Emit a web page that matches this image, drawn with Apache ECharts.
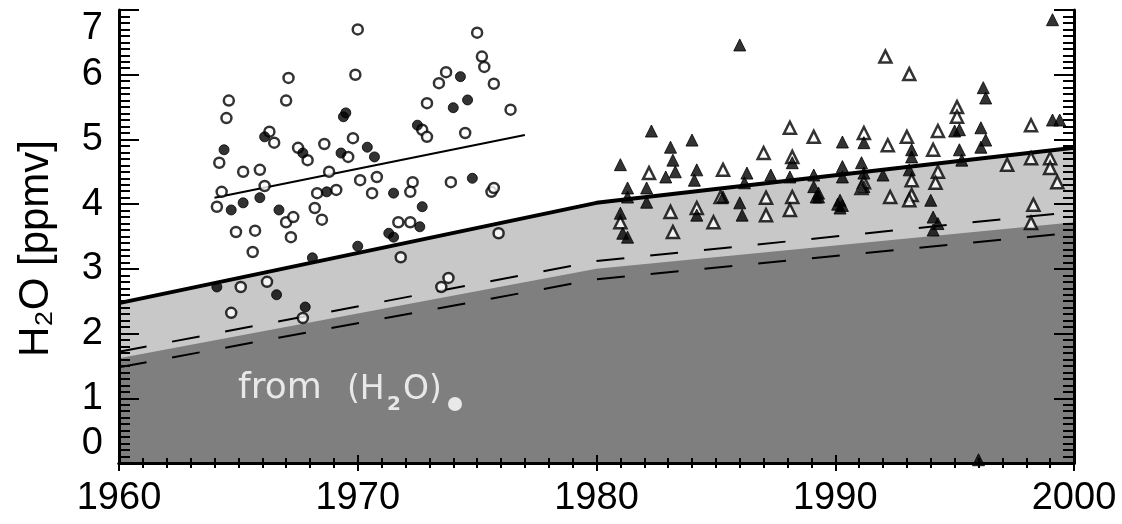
<!DOCTYPE html>
<html>
<head>
<meta charset="utf-8">
<script src="https://cdn.jsdelivr.net/npm/echarts@6/dist/echarts.min.js"></script>
<style>
html,body{margin:0;padding:0;background:#fff;}
#c{width:1122px;height:524px;}
</style>
</head>
<body>
<div id="c"></div>
<script>
// ---- data ----
const bandYears = [1960, 1980, 2000];
const solidUpper = [2.47, 4.02, 4.87];   // thick solid line, top of light band
const darkTop    = [1.62, 3.00, 3.72];   // top of dark band
const dashUpper  = [1.72, 3.12, 3.88];
const dashLower  = [1.48, 2.84, 3.56];
const trendYears = [1964, 1977];
const trendVals  = [4.10, 5.07];

const leftOpen = [
 [1964.6,5.6],[1964.5,5.33],[1967.1,5.95],[1967.0,5.6],[1969.9,6.0],[1970.0,6.7],[1975.0,6.65],
 [1966.3,5.12],[1966.5,4.95],[1964.2,4.64],[1965.2,4.5],[1965.9,4.53],[1967.5,4.87],[1967.9,4.68],
 [1968.6,4.93],[1969.8,5.02],[1969.6,4.73],[1968.8,4.5],[1964.3,4.19],[1964.1,3.96],[1966.1,4.28],
 [1968.3,4.17],[1969.1,4.22],[1970.1,4.37],[1970.8,4.42],[1970.6,4.17],[1972.3,4.34],[1972.2,4.19],
 [1973.9,4.34],[1975.6,4.19],[1975.7,4.25],[1967.0,3.72],[1967.3,3.80],[1968.2,3.94],[1968.5,3.76],
 [1964.9,3.57],[1965.7,3.59],[1967.2,3.49],[1965.6,3.26],[1971.7,3.72],[1972.2,3.72],[1971.8,3.18],
 [1975.9,3.55],[1973.4,5.87],[1973.7,6.04],[1972.9,5.56],[1972.7,5.15],[1972.9,5.04],[1974.5,5.10],
 [1975.2,6.28],[1975.3,6.12],[1975.7,5.86],[1976.4,5.46],[1965.1,2.72],[1966.2,2.80],[1964.7,2.32],
 [1967.7,2.24],[1973.8,2.86],[1973.5,2.72]
];
const leftFilled = [
 [1969.4,5.35],[1969.5,5.41],[1966.1,5.04],[1964.4,4.84],[1967.7,4.79],[1969.3,4.79],[1970.4,4.88],
 [1970.7,4.73],[1964.7,3.91],[1965.2,4.02],[1965.9,4.10],[1968.7,4.19],[1971.5,4.17],[1972.7,3.96],
 [1974.8,4.40],[1966.7,3.91],[1972.6,3.65],[1971.3,3.55],[1971.5,3.49],[1970.0,3.35],[1968.1,3.17],
 [1974.3,5.97],[1974.6,5.61],[1974.0,5.49],[1972.5,5.22],[1964.1,2.72],[1966.6,2.60],[1967.8,2.41]
];
const rightOpen = [
 [1992.1,6.28],[1993.1,6.01],[1995.1,5.5],[1995.1,5.35],[1994.3,5.13],[1998.2,5.22],[1994.1,4.84],
 [1993.0,5.04],[1988.1,5.18],[1989.1,5.04],[1991.2,5.10],[1992.2,4.91],[1987.0,4.79],[1988.2,4.73],
 [1982.2,4.48],[1985.3,4.53],[1985.2,4.11],[1993.2,4.37],[1994.3,4.5],[1994.2,4.33],[1997.2,4.61],
 [1998.2,4.71],[1999.0,4.71],[1999.0,4.56],[1999.3,4.34],[1981.0,3.72],[1983.1,3.88],[1983.2,3.57],
 [1984.2,3.94],[1984.9,3.72],[1987.1,4.10],[1987.1,3.83],[1988.2,4.11],[1988.1,3.91],[1991.2,4.34],
 [1991.1,4.25],[1992.3,4.11],[1993.2,4.14],[1993.1,4.06],[1998.3,3.99],[1998.2,3.71]
];
const rightFilled = [
 [1986.0,6.46],[1999.1,6.85],[1996.2,5.8],[1996.3,5.64],[1995.2,5.15],[1995.0,5.13],[1996.1,5.18],
 [1996.3,4.99],[1999.1,5.3],[1999.4,5.3],[1993.2,4.84],[1993.2,4.73],[1995.2,4.84],[1995.3,4.68],
 [1996.1,4.88],[1990.3,4.96],[1991.2,4.95],[1982.3,5.13],[1983.1,4.88],[1983.2,4.68],[1983.3,4.5],
 [1984.0,4.99],[1981.0,4.61],[1982.9,4.42],[1984.2,4.53],[1984.1,4.37],[1986.3,4.48],[1986.2,4.33],
 [1987.3,4.45],[1988.2,4.64],[1988.1,4.42],[1989.1,4.45],[1989.1,4.27],[1989.2,4.11],[1990.3,4.58],
 [1990.3,4.42],[1991.1,4.64],[1991.2,4.48],[1991.2,4.27],[1992.0,4.45],[1993.1,4.53],[1981.3,4.25],
 [1981.3,4.11],[1982.1,4.25],[1982.1,4.03],[1981.0,3.86],[1981.1,3.55],[1981.3,3.49],[1984.2,3.83],
 [1985.3,4.11],[1986.0,4.02],[1986.1,3.83],[1989.3,4.17],[1989.3,4.11],[1990.2,4.06],[1990.2,3.94],
 [1990.1,4.00],[1990.3,3.98],[1994.0,4.06],[1994.1,3.80],[1994.1,3.60],[1994.3,3.70],[1996.0,0.05]
];
const xRange = [1960, 2000];
const yRange = [0, 7];

// ---- build ----
const pairs = (xs, ys) => xs.map((x, i) => [x, ys[i]]);
const chart = echarts.init(document.getElementById('c'));
const tickFont = 'Liberation Sans';

function xAx(pos, labels) {
  return {
    type: 'value', min: xRange[0], max: xRange[1], interval: 10, position: pos,
    axisLine: {show: true, lineStyle: {color: '#000', width: 3}},
    axisTick: {show: true, inside: true, length: 8, lineStyle: {color: '#000', width: 2}},
    minorTick: {show: true, splitNumber: 10, length: 5, lineStyle: {color: '#000', width: 2}},
    splitLine: {show: false},
    axisLabel: {show: labels, color: '#000', fontSize: 38, fontFamily: tickFont, margin: 17,
                formatter: v => String(v)}
  };
}
function yAx(pos, labels) {
  return {
    type: 'value', min: yRange[0], max: yRange[1], interval: 1, position: pos,
    axisLine: {show: true, lineStyle: {color: '#000', width: 3}},
    axisTick: {show: true, inside: true, length: 20, lineStyle: {color: '#000', width: 2}},
    minorTick: {show: true, splitNumber: 10, length: 11, lineStyle: {color: '#000', width: 2}},
    splitLine: {show: false},
    axisLabel: {show: labels, color: '#000', fontSize: 38, fontFamily: tickFont, margin: 16,
                verticalAlignMinLabel: 'bottom', verticalAlignMaxLabel: 'top'},
    name: labels ? 'H₂O [ppmv]' : '', nameLocation: 'middle', nameRotate: 90, nameGap: 62,
    nameTextStyle: {color: '#000', fontSize: 42, fontFamily: tickFont, padding: [0, 24, 0, 0]}
  };
}

const lineBase = {type: 'line', showSymbol: false, symbol: 'none', silent: true, animation: false};
const scatterBase = {type: 'scatter', animation: false, z: -1};
const noteFill = '#e8e8e8';

chart.setOption({
  backgroundColor: '#fff',
  animation: false,
  grid: {left: 119, right: 48, top: 10, bottom: 61, outerBoundsMode: 'none'},
  xAxis: [xAx('bottom', true), xAx('top', false)],
  yAxis: [yAx('left', true), yAx('right', false)],
  series: [
    Object.assign({}, lineBase, {data: pairs(bandYears, solidUpper), z: -6,
      lineStyle: {width: 0}, areaStyle: {color: '#c8c8c8', opacity: 1}}),
    Object.assign({}, lineBase, {data: pairs(bandYears, darkTop), z: -5,
      lineStyle: {width: 0}, areaStyle: {color: '#7f7f7f', opacity: 1}}),
    Object.assign({}, lineBase, {data: pairs(bandYears, dashUpper), z: -4,
      lineStyle: {color: '#000', width: 2, type: [28, 26]}}),
    Object.assign({}, lineBase, {data: pairs(bandYears, dashLower), z: -4,
      lineStyle: {color: '#000', width: 2, type: [28, 26]}}),
    Object.assign({}, lineBase, {data: pairs(bandYears, solidUpper), z: -3,
      lineStyle: {color: '#000', width: 4}}),
    Object.assign({}, lineBase, {data: pairs(trendYears, trendVals), z: -3,
      lineStyle: {color: '#000', width: 2}}),
    Object.assign({}, scatterBase, {data: leftOpen, symbol: 'circle', symbolSize: 10,
      itemStyle: {color: '#fff', borderColor: '#000', borderWidth: 2.5}}),
    Object.assign({}, scatterBase, {data: leftFilled, symbol: 'circle', symbolSize: 10,
      itemStyle: {color: '#000', borderColor: '#000', borderWidth: 1}}),
    Object.assign({}, scatterBase, {data: rightOpen, symbol: 'triangle', symbolSize: 12,
      itemStyle: {color: '#fff', borderColor: '#000', borderWidth: 2.5}}),
    Object.assign({}, scatterBase, {data: rightFilled, symbol: 'triangle', symbolSize: 12,
      itemStyle: {color: '#000', borderColor: '#000', borderWidth: 1}})
  ],
  graphic: [
    {type: 'text', x: 238, y: 389, z: 20, silent: true,
     style: {text: 'from', fill: noteFill, font: '36px "DejaVu Sans"', verticalAlign: 'middle'}},
    {type: 'text', x: 347, y: 390, z: 20, silent: true,
     style: {text: '(H', fill: noteFill, font: '33px "DejaVu Sans"', verticalAlign: 'middle'}},
    {type: 'text', x: 387, y: 405, z: 20, silent: true,
     style: {text: '2', fill: noteFill, font: 'bold 20px "DejaVu Sans"', verticalAlign: 'middle'}},
    {type: 'text', x: 403, y: 390, z: 20, silent: true,
     style: {text: 'O)', fill: noteFill, font: '33px "DejaVu Sans"', verticalAlign: 'middle'}},
    {type: 'circle', z: 20, silent: true, shape: {cx: 455, cy: 404, r: 7}, style: {fill: noteFill}}
  ]
});
</script>
</body>
</html>
